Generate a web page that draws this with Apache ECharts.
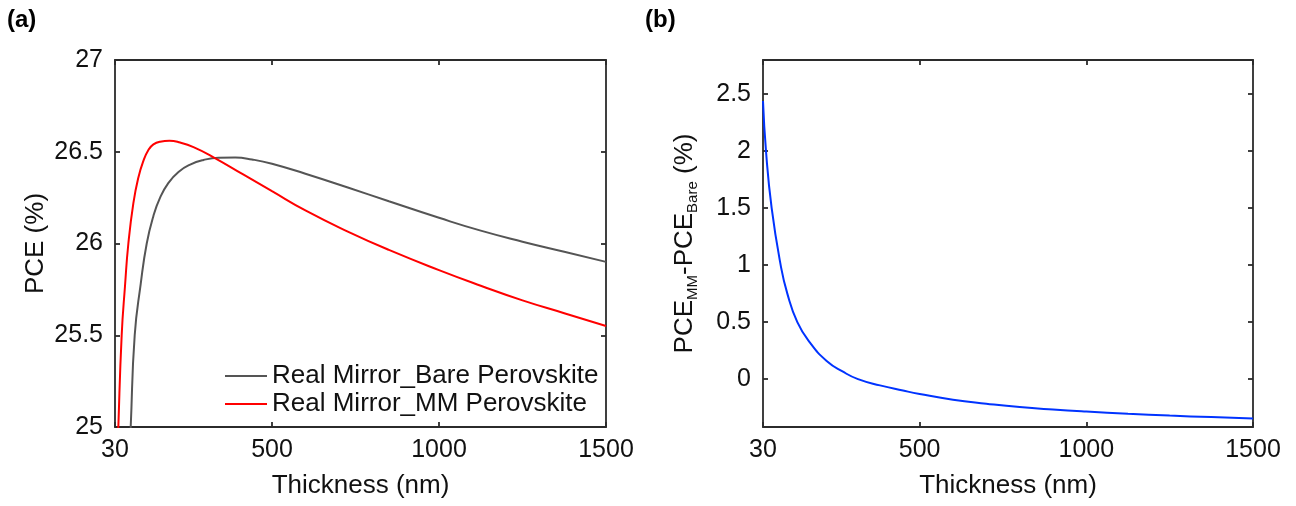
<!DOCTYPE html>
<html>
<head>
<meta charset="utf-8">
<script src="https://cdn.jsdelivr.net/npm/echarts@6/dist/echarts.min.js"></script>
<style>
  html, body { margin: 0; padding: 0; background: #fff; }
  #chart { width: 1296px; height: 506px; }
</style>
</head>
<body>
<div id="chart"></div>
<script>
// ---- data ----
const xTicks = [30, 500, 1000, 1500];
const yTicksA = [25, 25.5, 26, 26.5, 27];
const yTicksB = [0, 0.5, 1, 1.5, 2, 2.5];

const bareThickness = [70, 77, 89, 107, 125, 145, 165, 190, 220, 255, 295, 340, 390, 440, 500, 600, 727, 850, 1000, 1125, 1250, 1375, 1500];
const bareValues    = [24.72, 25.0, 25.5, 25.78, 26.0, 26.15, 26.25, 26.33, 26.39, 26.43, 26.455, 26.467, 26.468, 26.458, 26.435, 26.38, 26.305, 26.23, 26.14, 26.07, 26.01, 25.955, 25.90];

const mmThickness = [35, 40, 50, 60, 70, 85, 100, 115, 130, 145, 165, 193, 225, 265, 325, 415, 500, 600, 727, 850, 1000, 1125, 1250, 1375, 1500];
const mmValues    = [24.7, 25.0, 25.5, 25.77, 26.0, 26.22, 26.36, 26.45, 26.51, 26.54, 26.555, 26.56, 26.55, 26.525, 26.47, 26.375, 26.285, 26.18, 26.065, 25.965, 25.855, 25.77, 25.69, 25.62, 25.55];

const diffThickness = [30, 39, 56, 83, 103, 133, 171, 221, 270, 315, 381, 450, 500, 600, 700, 800, 900, 1000, 1125, 1250, 1375, 1500];
const diffValues    = [2.44, 2.0, 1.5, 1.0, 0.75, 0.5, 0.32, 0.16, 0.065, 0.0, -0.055, -0.10, -0.13, -0.18, -0.215, -0.245, -0.267, -0.285, -0.304, -0.32, -0.333, -0.345];

const seriesNames = ['Real Mirror_Bare Perovskite', 'Real Mirror_MM Perovskite'];

// ---- styling ----
const FONT = '"Liberation Sans", Arial, Helvetica, sans-serif';
const AX = '#2b2b2b';
const AXW = 1.8;
const TXT = '#111';
const TICK_FS = 25;
const NAME_FS = 26;

function pairs(xs, ys) { return xs.map((x, i) => [x, ys[i]]); }
const plain = v => String(v);

function mainX(grid) {
  return {
    type: 'value', gridIndex: grid, min: 30, max: 1500, position: 'bottom',
    name: 'Thickness (nm)', nameLocation: 'middle', nameGap: 46,
    nameTextStyle: { fontSize: NAME_FS, color: TXT, fontFamily: FONT },
    axisLine: { show: true, onZero: false, lineStyle: { color: AX, width: AXW } },
    axisTick: { show: true, inside: true, length: 5, customValues: xTicks, lineStyle: { color: AX, width: AXW } },
    axisLabel: { show: true, customValues: xTicks, formatter: plain, margin: 11, fontSize: TICK_FS, color: TXT, fontFamily: FONT },
    splitLine: { show: false }
  };
}
function topX(grid) {
  return {
    type: 'value', gridIndex: grid, min: 30, max: 1500, position: 'top',
    axisLine: { show: true, onZero: false, lineStyle: { color: AX, width: AXW } },
    axisTick: { show: true, inside: true, length: 5, customValues: xTicks, lineStyle: { color: AX, width: AXW } },
    axisLabel: { show: false }, splitLine: { show: false }
  };
}
function rightY(grid, min, max, ticks) {
  return {
    type: 'value', gridIndex: grid, min: min, max: max, position: 'right',
    axisLine: { show: true, onZero: false, lineStyle: { color: AX, width: AXW } },
    axisTick: { show: true, inside: true, length: 5, customValues: ticks, lineStyle: { color: AX, width: AXW } },
    axisLabel: { show: false }, splitLine: { show: false }
  };
}

const chart = echarts.init(document.getElementById('chart'), null, { renderer: 'canvas' });
chart.setOption({
  animation: false,
  backgroundColor: '#fff',
  title: [
    { text: '(a)', left: 7, top: 8, padding: 0, textStyle: { fontSize: 24, fontWeight: 'bold', color: '#000', fontFamily: FONT } },
    { text: '(b)', left: 645, top: 8, padding: 0, textStyle: { fontSize: 24, fontWeight: 'bold', color: '#000', fontFamily: FONT } }
  ],
  grid: [
    { left: 115, top: 60, width: 491, height: 367 },
    { left: 763, top: 60, width: 490, height: 367 }
  ],
  legend: {
    data: seriesNames,
    orient: 'vertical', left: 225, top: 363, padding: 0,
    icon: 'rect', itemWidth: 42, itemHeight: 2, itemGap: 2,
    textStyle: { fontSize: 26, color: TXT, fontFamily: FONT, lineHeight: 24 }
  },
  xAxis: [mainX(0), topX(0), mainX(1), topX(1)],
  yAxis: [
    {
      type: 'value', gridIndex: 0, min: 25, max: 27, interval: 0.5, position: 'left',
      name: 'PCE (%)', nameLocation: 'middle', nameGap: 66,
      nameTextStyle: { fontSize: NAME_FS, color: TXT, fontFamily: FONT },
      axisLine: { show: true, onZero: false, lineStyle: { color: AX, width: AXW } },
      axisTick: { show: true, inside: true, length: 5, lineStyle: { color: AX, width: AXW } },
      axisLabel: { margin: 12, fontSize: TICK_FS, color: TXT, fontFamily: FONT, formatter: plain },
      splitLine: { show: false }
    },
    rightY(0, 25, 27, yTicksA),
    {
      type: 'value', gridIndex: 1, min: -0.42, max: 2.8, position: 'left',
      name: '{a|PCE}{s|MM}{a|-PCE}{s|Bare}{a| (%)}', nameLocation: 'middle', nameGap: 63,
      nameTextStyle: {
        fontSize: NAME_FS, color: TXT, fontFamily: FONT,
        rich: {
          a: { fontSize: NAME_FS, color: TXT, fontFamily: FONT, lineHeight: 28, verticalAlign: 'top' },
          s: { fontSize: 15, color: TXT, fontFamily: FONT, lineHeight: 15, verticalAlign: 'bottom', padding: [18, 0, 0, 0] }
        }
      },
      axisLine: { show: true, onZero: false, lineStyle: { color: AX, width: AXW } },
      axisTick: { show: true, inside: true, length: 5, customValues: yTicksB, lineStyle: { color: AX, width: AXW } },
      axisLabel: { customValues: yTicksB, formatter: plain, margin: 12, fontSize: TICK_FS, color: TXT, fontFamily: FONT },
      splitLine: { show: false }
    },
    rightY(1, -0.42, 2.8, yTicksB)
  ],
  series: [
    {
      name: seriesNames[0], type: 'line', xAxisIndex: 0, yAxisIndex: 0,
      data: pairs(bareThickness, bareValues), showSymbol: false, symbol: 'none',
      smooth: 0.5, clip: true,
      lineStyle: { color: '#555555', width: 2 }, itemStyle: { color: '#555555' }
    },
    {
      name: seriesNames[1], type: 'line', xAxisIndex: 0, yAxisIndex: 0,
      data: pairs(mmThickness, mmValues), showSymbol: false, symbol: 'none',
      smooth: 0.5, clip: true,
      lineStyle: { color: '#ff0000', width: 2 }, itemStyle: { color: '#ff0000' }
    },
    {
      name: 'PCE difference', type: 'line', xAxisIndex: 2, yAxisIndex: 2,
      data: pairs(diffThickness, diffValues), showSymbol: false, symbol: 'none',
      smooth: 0.5, clip: true,
      lineStyle: { color: '#0033ff', width: 2 }, itemStyle: { color: '#0033ff' }
    }
  ]
});
</script>
</body>
</html>
